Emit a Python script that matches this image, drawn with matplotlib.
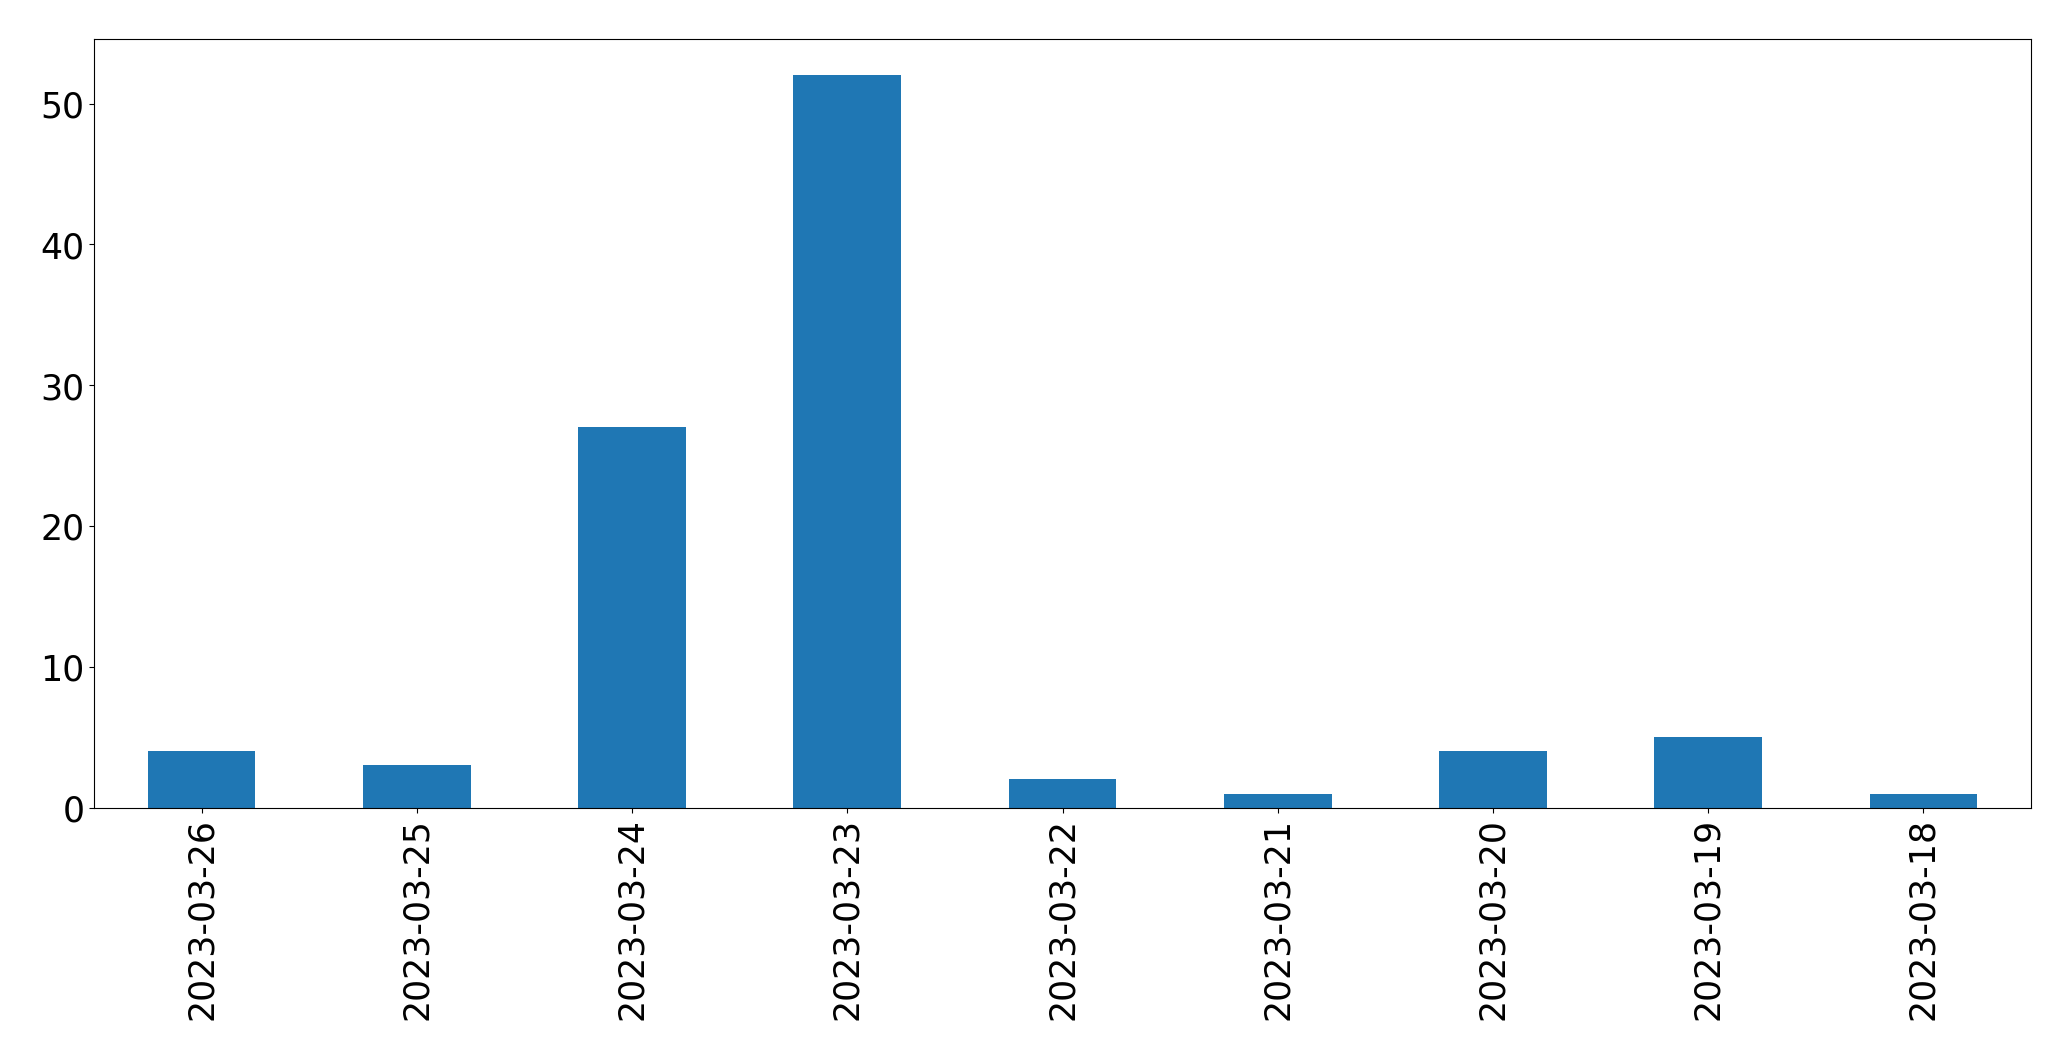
import matplotlib
matplotlib.use('Agg')
import matplotlib.pyplot as plt
import pandas as pd

dates = ['2023-03-26', '2023-03-25', '2023-03-24', '2023-03-23', '2023-03-22',
         '2023-03-21', '2023-03-20', '2023-03-19', '2023-03-18']
counts = [4, 3, 27, 52, 2, 1, 4, 5, 1]

s = pd.Series(counts, index=dates)

fig, ax = plt.subplots(figsize=(20.71, 10.605), dpi=100)
s.plot(kind='bar', ax=ax, color='#1f77b4')
ax.tick_params(axis='both', labelsize=25)
fig.subplots_adjust(left=0.0454, right=0.9807, top=0.963, bottom=0.238)
fig.savefig('out.png', dpi=100)
